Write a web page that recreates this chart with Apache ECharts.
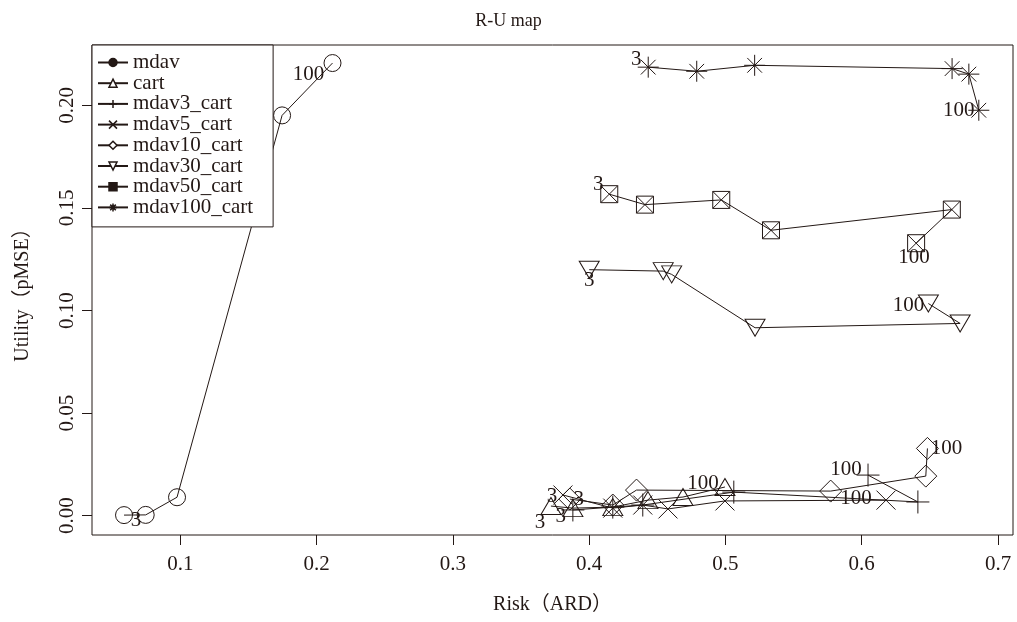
<!DOCTYPE html>
<html>
<head>
<meta charset="utf-8">
<script src="https://cdn.jsdelivr.net/npm/echarts@6/dist/echarts.min.js"></script>
<style>
html, body { margin: 0; padding: 0; background: #fff; }
#chart { width: 1017px; height: 622px; }
</style>
</head>
<body>
<div id="chart"></div>
<script>
// series names (legend order)
var seriesNames = ['mdav', 'cart', 'mdav3_cart', 'mdav5_cart', 'mdav10_cart', 'mdav30_cart', 'mdav50_cart', 'mdav100_cart']

// risk (ARD) / utility (pMSE) per series
var mdavRisk = [0.0586, 0.0745, 0.0975, 0.1746, 0.2116]
var mdavUtil = [0.0003, 0.0004, 0.0090, 0.1951, 0.2206]
var cartRisk = [0.3719, 0.3880, 0.4173, 0.4431, 0.4688, 0.4996]
var cartUtil = [0.0047, 0.0037, 0.0042, 0.0076, 0.0091, 0.0140]
var mdav3Risk = [0.3880, 0.4173, 0.4393, 0.5061, 0.6412, 0.6046]
var mdav3Util = [0.0028, 0.0042, 0.0052, 0.0115, 0.0067, 0.0198]
var mdav5Risk = [0.3807, 0.4173, 0.4393, 0.4578, 0.4996, 0.6178]
var mdav5Util = [0.0101, 0.0037, 0.0052, 0.0033, 0.0072, 0.0076]
var mdav10Risk = [0.3858, 0.4173, 0.4347, 0.5772, 0.6470, 0.6482]
var mdav10Util = [0.0081, 0.0052, 0.0125, 0.0120, 0.0193, 0.0328]
var mdav30Risk = [0.4000, 0.4543, 0.4605, 0.5217, 0.6722, 0.6489]
var mdav30Util = [0.1199, 0.1192, 0.1176, 0.0916, 0.0937, 0.1034]
var mdav50Risk = [0.4147, 0.4409, 0.4969, 0.5334, 0.6661, 0.6399]
var mdav50Util = [0.1567, 0.1516, 0.1539, 0.1391, 0.1492, 0.1328]
var mdav100Risk = [0.4433, 0.4789, 0.5214, 0.6663, 0.6786, 0.6859]
var mdav100Util = [0.2186, 0.2166, 0.2195, 0.2179, 0.2152, 0.1976]

// labels on first / last point
var endLabels = ['3', '100']

// axis ticks
var xTicks = [0.1, 0.2, 0.3, 0.4, 0.5, 0.6, 0.7]
var yTicks = [0, 0.05, 0.10, 0.15, 0.20]

var risks = [mdavRisk, cartRisk, mdav3Risk, mdav5Risk, mdav10Risk, mdav30Risk, mdav50Risk, mdav100Risk]
var utils = [mdavUtil, cartUtil, mdav3Util, mdav5Util, mdav10Util, mdav30Util, mdav50Util, mdav100Util]

var ink = '#231815'
var font = '"Liberation Serif", "Noto Sans CJK JP", serif'

// R pch 1..8 look-alikes
var symbols = [
  { symbol: 'circle', size: 17 },
  { symbol: 'triangle', size: [20, 17] },
  { symbol: 'path://M10,0L10,20M0,10L20,10', size: 23 },
  { symbol: 'path://M0,0L20,20M0,20L20,0', size: 19 },
  { symbol: 'diamond', size: 22 },
  { symbol: 'triangle', size: [20, 17], rotate: 180 },
  { symbol: 'path://M0,0L20,0L20,20L0,20ZM0,0L20,20M0,20L20,0', size: 17 },
  { symbol: 'path://M10,0L10,20M0,10L20,10M3,3L17,17M3,17L17,3', size: 21 }
]
// legend keys: small symbols, some open some solid like the R legend
var legendOpen = [false, true, false, false, true, true, false, false]

// where the "3" / "100" text sits relative to its point
var labelShift = [
  [[12, 5], [-24, 11]],
  [[-11, 16], [-22, -4]],
  [[-12, 7], [-22, -6]],
  [[-11, 1], [-30, -2]],
  [[9, 0], [19, 0]],
  [[0, 11], [-20, 2]],
  [[-11, -10], [-2, 14]],
  [[-12, -8], [-20, 0]]
]

var series = []
var legendData = []
for (var k = 0; k < seriesNames.length; k++) {
  var data = []
  var n = risks[k].length
  for (var i = 0; i < n; i++) {
    var item = { value: [risks[k][i], utils[k][i]] }
    var end = i === 0 ? 0 : (i === n - 1 ? 1 : -1)
    if (end >= 0) {
      item.label = {
        show: true,
        formatter: endLabels[end],
        position: 'inside',
        offset: labelShift[k][end],
        color: ink,
        fontFamily: font,
        fontSize: 21
      }
    }
    data.push(item)
  }
  series.push({
    name: seriesNames[k],
    type: 'line',
    data: data,
    symbol: symbols[k].symbol,
    symbolSize: symbols[k].size,
    symbolRotate: symbols[k].rotate || 0,
    showAllSymbol: true,
    itemStyle: { color: 'rgba(0,0,0,0)', borderColor: ink, borderWidth: 1 },
    lineStyle: { color: ink, width: 1 },
    label: { show: false },
    emphasis: { disabled: true },
    z: 2
  })
  legendData.push({
    name: seriesNames[k],
    itemStyle: { color: legendOpen[k] ? '#fff' : ink, borderColor: ink, borderWidth: 1.5 }
  })
}

var chart = echarts.init(document.getElementById('chart'))
var option = {
  animation: false,
  backgroundColor: '#fff',
  title: {
    text: 'R-U map',
    left: 'center',
    top: 7,
    textStyle: { fontFamily: font, fontSize: 18, fontWeight: 'normal', color: ink }
  },
  legend: {
    data: legendData,
    orient: 'vertical',
    left: 92,
    top: 45,
    padding: [7, 20, 9, 5],
    itemWidth: 30,
    itemHeight: 10,
    itemGap: -0.3,
    backgroundColor: '#fff',
    borderColor: ink,
    borderWidth: 1,
    textStyle: { fontFamily: font, fontSize: 21, lineHeight: 20.7, color: ink },
    selectedMode: false
  },
  grid: {
    left: 92,
    right: 4,
    top: 45,
    bottom: 87,
    show: true,
    borderColor: ink,
    borderWidth: 1
  },
  xAxis: {
    type: 'value',
    min: 0.0351,
    max: 0.711,
    name: 'Risk（ARD）',
    nameLocation: 'middle',
    nameGap: 60,
    nameTextStyle: { fontFamily: font, fontSize: 20, color: ink },
    axisLine: { show: false, onZero: false },
    axisTick: { show: true, length: 10, lineStyle: { color: ink }, customValues: xTicks },
    axisLabel: {
      customValues: xTicks,
      margin: 19,
      fontFamily: font,
      fontSize: 21,
      color: ink,
      formatter: function(v) { return v.toFixed(1) }
    },
    splitLine: { show: false }
  },
  yAxis: {
    type: 'value',
    min: -0.0094,
    max: 0.2294,
    name: 'Utility（pMSE）',
    nameLocation: 'middle',
    nameGap: 59,
    nameRotate: 90,
    nameTextStyle: { fontFamily: font, fontSize: 20, color: ink },
    axisLine: { show: false, onZero: false },
    axisTick: { show: true, length: 10, lineStyle: { color: ink }, customValues: yTicks },
    axisLabel: {
      customValues: yTicks,
      rotate: 90,
      margin: 14,
      fontFamily: font,
      fontSize: 21,
      color: ink,
      formatter: function(v) { return v.toFixed(2) }
    },
    splitLine: { show: false }
  },
  series: series
}
chart.setOption(option)
</script>
</body>
</html>
